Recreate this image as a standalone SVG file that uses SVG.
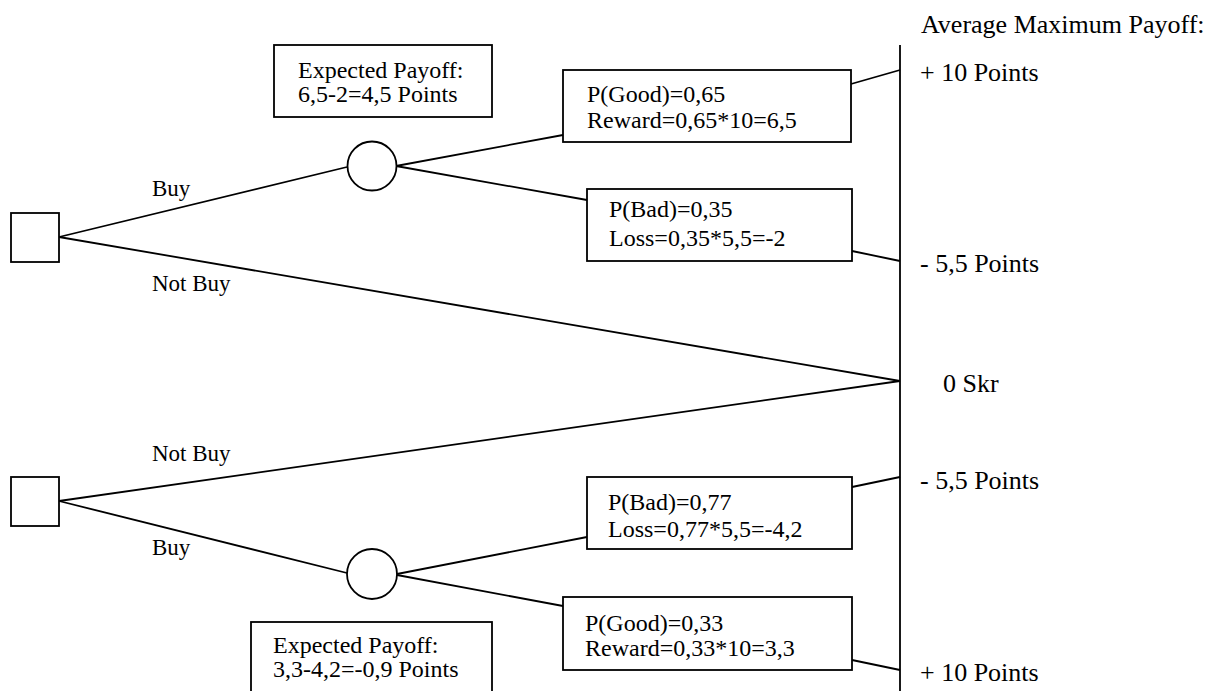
<svg xmlns="http://www.w3.org/2000/svg" width="1224" height="691" viewBox="0 0 1224 691">
<style>
.s{fill:#fff;stroke:#000;stroke-width:1.8}
.c{fill:none;stroke:#000;stroke-width:1.8}
text{font-family:"Liberation Serif","Times New Roman",serif;fill:#000}
.b{font-size:24px}
.l{font-size:23px}
.r{font-size:26px}
</style>
<rect width="1224" height="691" fill="#fff"/>
<g id="connectors">
<line class="c" x1="900" y1="45" x2="900" y2="691"/>
<line class="c" x1="59" y1="237" x2="347" y2="167"/>
<line class="c" x1="59" y1="237" x2="900" y2="381"/>
<line class="c" x1="396" y1="166" x2="563" y2="135"/>
<line class="c" x1="396" y1="166" x2="587" y2="200"/>
<line class="c" x1="851" y1="84" x2="900" y2="70"/>
<line class="c" x1="852" y1="251" x2="900" y2="261"/>
<line class="c" x1="59" y1="501" x2="900" y2="381"/>
<line class="c" x1="59" y1="501" x2="347" y2="573"/>
<line class="c" x1="397" y1="574" x2="587" y2="537"/>
<line class="c" x1="397" y1="575" x2="563" y2="606"/>
<line class="c" x1="852" y1="487" x2="900" y2="477"/>
<line class="c" x1="852" y1="660" x2="900" y2="670"/>
</g>
<g id="decision1"><rect class="s" x="11" y="213" width="48" height="49"/></g>
<g id="decision2"><rect class="s" x="11" y="477" width="48" height="49"/></g>
<g id="chance1"><circle class="s" cx="372" cy="166" r="24.5"/></g>
<g id="chance2"><circle class="s" cx="372" cy="574" r="25"/></g>
<g id="expected1"><rect class="s" x="274" y="45" width="218" height="72"/>
<text class="b" x="298" y="78">Expected Payoff:</text>
<text class="b" x="298" y="102">6,5-2=4,5 Points</text></g>
<g id="good1"><rect class="s" x="563" y="70" width="288" height="72"/>
<text class="b" x="587" y="102">P(Good)=0,65</text>
<text class="b" x="587" y="128">Reward=0,65*10=6,5</text></g>
<g id="bad1"><rect class="s" x="587" y="189" width="265" height="72"/>
<text class="b" x="609" y="217">P(Bad)=0,35</text>
<text class="b" x="609" y="246">Loss=0,35*5,5=-2</text></g>
<g id="bad2"><rect class="s" x="587" y="477" width="265" height="72"/>
<text class="b" x="608" y="510">P(Bad)=0,77</text>
<text class="b" x="608" y="537">Loss=0,77*5,5=-4,2</text></g>
<g id="good2"><rect class="s" x="563" y="597" width="289" height="73"/>
<text class="b" x="585" y="631">P(Good)=0,33</text>
<text class="b" x="585" y="656">Reward=0,33*10=3,3</text></g>
<g id="expected2"><rect class="s" x="251" y="622" width="241" height="80"/>
<text class="b" x="273" y="653">Expected Payoff:</text>
<text class="b" x="273" y="677">3,3-4,2=-0,9 Points</text></g>
<g id="labels">
<text class="l" x="152" y="196">Buy</text>
<text class="l" x="152" y="291">Not Buy</text>
<text class="l" x="152" y="461">Not Buy</text>
<text class="l" x="152" y="555">Buy</text>
</g>
<g id="payoffs">
<text class="r" x="921" y="33">Average Maximum Payoff:</text>
<text class="r" x="920" y="81">+ 10 Points</text>
<text class="r" x="920" y="272">- 5,5 Points</text>
<text class="r" x="943" y="392">0 Skr</text>
<text class="r" x="920" y="489">- 5,5 Points</text>
<text class="r" x="920" y="681">+ 10 Points</text>
</g>
</svg>
